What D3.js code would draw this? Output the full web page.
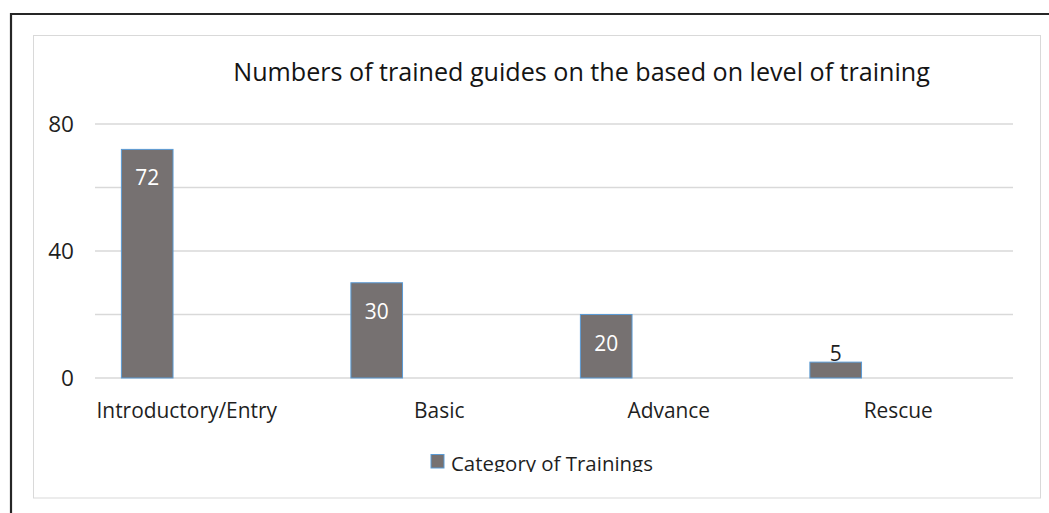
<!DOCTYPE html>
<html lang="en">
<head>
<meta charset="utf-8">
<title>trained guides</title>
<style>
	html, body { margin: 0; padding: 0; background: #fff; }
	svg { display: block; }
	text { font-family: "Open Sans", "DejaVu Sans", sans-serif; }
</style>
</head>
<body>
<script src="https://cdn.jsdelivr.net/npm/d3@7"></script>
<script>
	// data
	const categories = ["Introductory/Entry", "Basic", "Advance", "Rescue"];
	const values = [72, 30, 20, 5];
	const seriesName = "Category of Trainings";
	const yLabelTicks = [0, 40, 80];
	const gridTicks = [0, 20, 40, 60, 80];
	const title = "Numbers of trained guides on the based on level of training";

	const W = 1049, H = 513;
	const barFill = "#767171", barStroke = "#5b9bd5";

	const svg = d3.select("body").append("svg")
		.attr("width", W)
		.attr("height", H);

	// outer dark frame (top + left only visible)
	svg.append("path")
		.attr("d", `M11,${H + 5} V14 H${W + 5}`)
		.attr("fill", "none")
		.attr("stroke", "#262626")
		.attr("stroke-width", 2.2);

	// chart area
	svg.append("rect")
		.attr("x", 33.5).attr("y", 35.5)
		.attr("width", 1007).attr("height", 462.5)
		.attr("fill", "#fff")
		.attr("stroke", "#d9d9d9")
		.attr("stroke-width", 1);

	const x = d3.scaleBand().domain(categories).range([95, 1013]);
	const y = d3.scaleLinear().domain([0, 80]).range([378, 124]);

	// fit helper: scale font size so text spans target width
	function fit(sel, target) {
		const w = sel.node().getComputedTextLength();
		const fs = parseFloat(sel.attr("font-size"));
		sel.attr("font-size", fs * target / w);
		return fs * target / w;
	}

	// measure base font size from a category label
	const probe = svg.append("text").attr("font-size", 20).text(categories[0]);
	const fs = fit(probe, 180.6);
	probe.remove();

	// gridlines
	svg.append("g")
		.selectAll("line")
		.data(gridTicks)
		.join("line")
		.attr("x1", 95).attr("x2", 1013)
		.attr("y1", d => y(d)).attr("y2", d => y(d))
		.attr("stroke", "#d9d9d9")
		.attr("stroke-width", 1.3);

	// y axis labels
	const yAxis = svg.append("g")
		.attr("transform", "translate(74,0)")
		.call(d3.axisLeft(y).tickValues(yLabelTicks).tickSize(0).tickPadding(0));
	yAxis.select(".domain").remove();
	yAxis.selectAll("text")
		.attr("font-size", fs * 1.08)
		.attr("font-family", '"Open Sans", sans-serif')
		.attr("fill", "#1f1f1f");

	// x axis labels
	const xAxis = svg.append("g")
		.attr("transform", "translate(0,378)")
		.call(d3.axisBottom(x).tickSize(0).tickPadding(0));
	xAxis.select(".domain").remove();
	xAxis.selectAll("text")
		.attr("dy", 0)
		.attr("y", 39.5)
		.attr("font-size", fs)
		.attr("font-family", '"Open Sans", sans-serif')
		.attr("fill", "#1f1f1f");

	// long labels sit at the start of their band, as in the source
	xAxis.selectAll(".tick").each(function (d) {
		const txt = d3.select(this).select("text");
		const w = txt.node().getComputedTextLength();
		if (w > x.bandwidth() * 0.75) {
			txt.attr("text-anchor", "start").attr("x", -x.bandwidth() / 2 + 1.5);
		}
	});

	// bars
	const bw = x.bandwidth();
	svg.append("g")
		.selectAll("rect")
		.data(categories)
		.join("rect")
		.attr("x", d => x(d) + bw * 0.115)
		.attr("width", bw * 0.225)
		.attr("y", (d, i) => y(values[i]))
		.attr("height", (d, i) => y(0) - y(values[i]))
		.attr("fill", barFill)
		.attr("stroke", barStroke)
		.attr("stroke-width", 1);

	// data labels
	svg.append("g")
		.selectAll("text")
		.data(categories)
		.join("text")
		.attr("x", d => x(d) + bw * 0.115 + bw * 0.1125)
		.attr("y", (d, i) => {
			const h = y(0) - y(values[i]);
			return h > 40 ? y(values[i]) + 36 : y(values[i]) - 1;
		})
		.attr("text-anchor", "middle")
		.attr("font-size", fs)
		.attr("fill", (d, i) => (y(0) - y(values[i]) > 40 ? "#fff" : "#1f1f1f"))
		.text((d, i) => values[i]);

	// title
	const t = svg.append("text")
		.attr("x", 581.6)
		.attr("y", 81)
		.attr("text-anchor", "middle")
		.attr("font-size", 24)
		.attr("fill", "#141414")
		.text(title);
	fit(t, 697);

	// legend (bottom of glyphs clipped like the source)
	svg.append("clipPath")
		.attr("id", "legclip")
		.append("rect")
		.attr("x", 420).attr("y", 440)
		.attr("width", 260).attr("height", 32);

	const leg = svg.append("g").attr("clip-path", "url(#legclip)");
	leg.append("rect")
		.attr("x", 431).attr("y", 454.5)
		.attr("width", 13).attr("height", 13.5)
		.attr("fill", barFill)
		.attr("stroke", barStroke)
		.attr("stroke-width", 1);
	const lt = leg.append("text")
		.attr("x", 451)
		.attr("y", 471)
		.attr("font-size", fs)
		.attr("fill", "#1f1f1f")
		.text(seriesName);
	fit(lt, 202);
</script>
</body>
</html>
